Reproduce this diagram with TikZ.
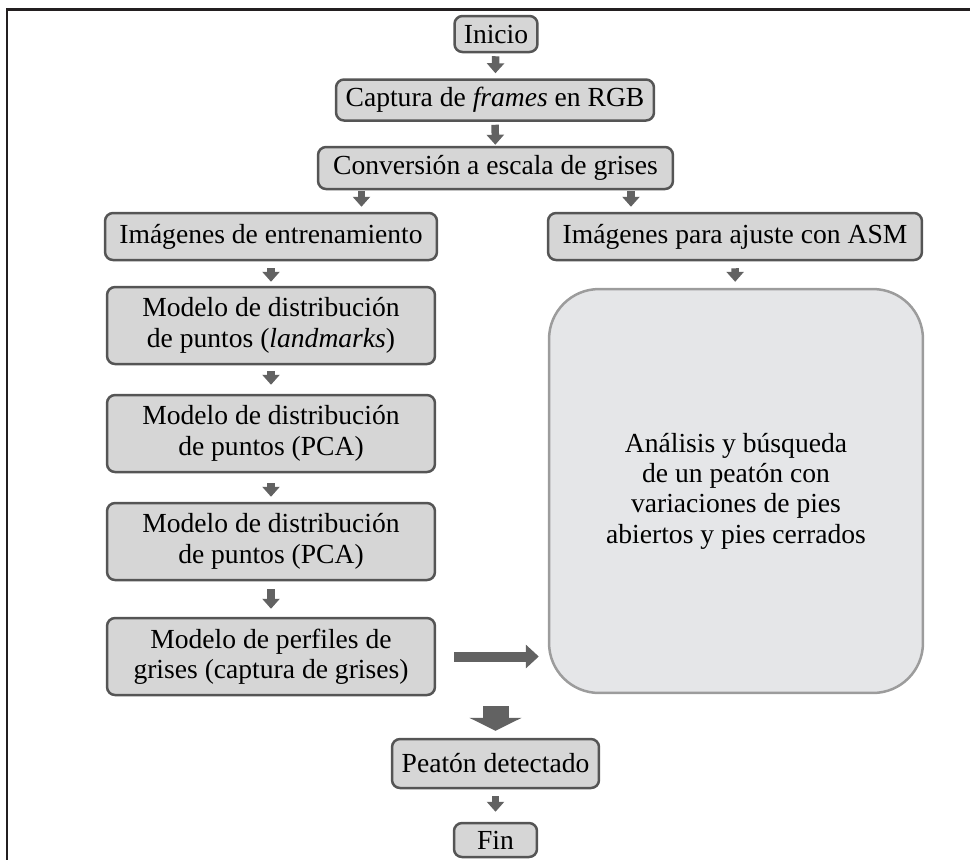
\documentclass[tikz,border=0pt]{standalone}
\usepackage{fontspec}
\setmainfont{Liberation Serif}
\usetikzlibrary{arrows.meta}
\usetikzlibrary{calc}
\usepackage{xcolor}
\newcommand{\px}{0.02cm}
\definecolor{boxfill}{HTML}{D6D6D6}
\definecolor{boxline}{HTML}{555555}
\definecolor{bigfill}{HTML}{E5E6E8}
\definecolor{bigline}{HTML}{9C9C9C}
\definecolor{arrowgray}{HTML}{626262}
\definecolor{framecol}{HTML}{231F20}

\begin{document}
\begin{tikzpicture}[x=\px,y=-\px]
            \useasboundingbox (0,0) rectangle (970,860);
            \draw[framecol,line width=0.06cm] (970,9) -- (7,9) -- (7,860);

            \begin{scope}[every node/.style={draw=boxline,fill=boxfill,line width=0.05cm,rounded corners=0.16cm,
                align=center,inner sep=0pt,font=\fontsize{15.7}{17.3}\selectfont}]
                \node[minimum width=1.66cm,minimum height=0.72cm] (ini) at (496,34) {Inicio};
                \node[minimum width=6.36cm,minimum height=0.82cm] (cap) at (495,100) {Captura de \textit{frames} en RGB};
                \node[minimum width=7.1cm,minimum height=0.84cm] (conv) at (495.5,168) {Conversión a escala de grises};
                \node[minimum width=6.64cm,minimum height=0.94cm] (ent) at (271,236.5) {Imágenes de entrenamiento};
                \node[minimum width=7.48cm,minimum height=0.94cm] (asm) at (735,236.5) {Imágenes para ajuste con ASM};
                \node[minimum width=6.56cm,minimum height=1.54cm] (lm) at (271,325.5) {Modelo de distribución\\de puntos (\textit{landmarks})};
                \node[minimum width=6.56cm,minimum height=1.54cm] (pca1) at (271,433.5) {Modelo de distribución\\de puntos (PCA)};
                \node[minimum width=6.56cm,minimum height=1.54cm] (pca2) at (271,541.5) {Modelo de distribución\\de puntos (PCA)};
                \node[minimum width=6.56cm,minimum height=1.54cm] (perf) at (271,656.5) {Modelo de perfiles de\\grises (captura de grises)};
                \node[draw=bigline,fill=bigfill,rounded corners=1cm,minimum width=7.48cm,minimum height=8.08cm] (big) at (736,491)
                    {Análisis y búsqueda\\de un peatón con\\variaciones de pies\\abiertos y pies cerrados};
                \node[minimum width=4.14cm,minimum height=0.98cm] (peat) at (495.5,763.5) {Peatón detectado};
                \node[minimum width=1.66cm,minimum height=0.68cm] (fin) at (495.5,840) {Fin};
            \end{scope}

            \coordinate (c1) at ($(conv.south west)!0.125!(conv.south east)$);
            \coordinate (c2) at ($(conv.south west)!0.879!(conv.south east)$);

            \begin{scope}[>={Triangle[width=0.34cm,length=0.2cm]},
                every edge/.style={draw=arrowgray,line width=0.15cm}]
                \path [->] (ini) edge[shorten <=0.06cm,shorten >=0.1cm] node {} (cap);
                \path [->] (cap) edge[shorten <=0.06cm,shorten >=0.02cm] node {} (conv);
                \path [->] (c1) edge[shorten <=0.02cm,shorten >=0.1cm] node {} (c1 |- ent.north);
                \path [->] (c2) edge[shorten <=0.02cm,shorten >=0.1cm] node {} (c2 |- asm.north);
                \path [->] (ent) edge[shorten <=0.14cm,shorten >=0.08cm] node {} (lm);
                \path [->] (lm) edge[shorten <=0.12cm,shorten >=0.18cm] node {} (pca1);
                \path [->] (pca1) edge[shorten <=0.2cm,shorten >=0.1cm] node {} (pca2);
                \path [->] (pca2) edge[shorten <=0.16cm,shorten >=0.16cm] node {} (perf);
                \path [->] (asm) edge[shorten <=0.14cm,shorten >=0.12cm] node {} (big);
                \path [->] (peat) edge[shorten <=0.14cm,shorten >=0.2cm] node {} (fin);
            \end{scope}

            \begin{scope}[every edge/.style={draw=arrowgray}]
                \path [-{Triangle[width=0.46cm,length=0.26cm]}] (perf.east) edge[line width=0.2cm,shorten <=0.36cm,shorten >=0.18cm] node {} (perf.east -| big.west);
                \path [-{Triangle[width=1.04cm,length=0.26cm]}] (peat.north |- perf.south) edge[line width=0.52cm,shorten <=0.2cm,shorten >=0.14cm] node {} (peat.north);
            \end{scope}
            \end{tikzpicture}
\end{document}
